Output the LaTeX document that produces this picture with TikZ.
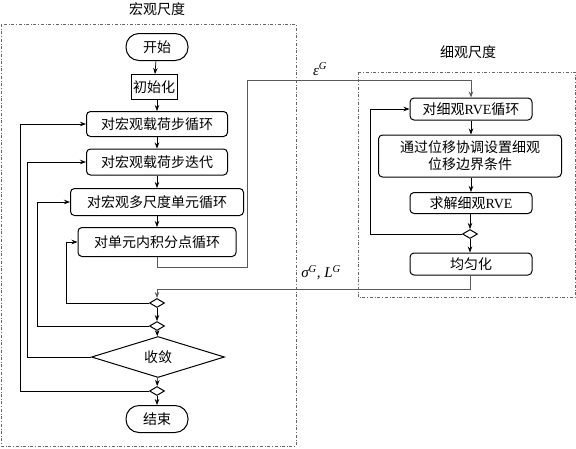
\documentclass[tikz,border=0pt]{standalone}
\usepackage{fontspec}
\setmainfont{Noto Sans CJK SC}
\newfontfamily\latin{Liberation Serif}
\usetikzlibrary{shapes.geometric,arrows.meta}

\tikzset{
    box/.style={draw, rounded corners=4pt, line width=1pt, inner sep=0pt,
        font=\fontsize{14}{17}\selectfont, align=center},
    term/.style={draw, rounded corners=13pt, line width=1pt, inner sep=0pt,
        minimum width=62pt, minimum height=27pt, font=\fontsize{14}{17}\selectfont},
    knot/.style={draw, diamond, line width=1pt, inner sep=0pt,
        minimum width=15pt, minimum height=9pt},
    frame/.style={draw=gray!80!black, dash dot, line width=0.8pt},
    flow/.style={-{Stealth[length=6pt,width=4.5pt]}, line width=0.7pt},
    xflow/.style={flow, draw=gray!70!black, line width=0.9pt},
    sym/.style={font=\fontsize{15}{17}\selectfont\latin\itshape}
}

\begin{document}
\begin{tikzpicture}[x=1pt,y=-1pt]
    \useasboundingbox (0,0) rectangle (576,448);

    % Frames with titles
    \draw[frame] (1,24) rectangle (296,446);
    \draw[frame] (358,72) rectangle (575,297);
    \node[font=\fontsize{14}{17}\selectfont] (macro_title) at (157,9) {宏观尺度};
    \node[font=\fontsize{14}{17}\selectfont] (micro_title) at (468,52) {细观尺度};

    % Macro scale
    \node[term] (start) at (157,47) {开始};
    \node[draw, line width=1pt, inner sep=0pt,
        minimum width=46pt,
        minimum height=25pt,
        font=\fontsize{14}{17}\selectfont] (init) at (154,87) {初始化};
    \node[box, minimum width=141pt, minimum height=25pt] (load_loop) at (157,124) {对宏观载荷步循环};
    \node[box, minimum width=141pt, minimum height=26pt] (load_iter) at (157,162) {对宏观载荷步迭代};
    \node[box, minimum width=173pt, minimum height=27pt] (elem_loop) at (157,202) {对宏观多尺度单元循环};
    \node[box, minimum width=158pt, minimum height=29pt] (gauss_loop) at (157,242) {对单元内积分点循环};

    \node[knot] (knot_gauss) at (157,303) {};
    \node[knot] (knot_elem) at (157,326) {};
    \node[draw, diamond, line width=1pt, inner sep=0pt,
        minimum width=133pt,
        minimum height=34pt,
        font=\fontsize{14}{17}\selectfont] (conv) at (158,357) {收敛};
    \node[knot] (knot_load) at (157,391) {};
    \node[term] (stop) at (157,419) {结束};

    % Micro scale
    \node[box, minimum width=122pt, minimum height=22pt] (rve_loop) at (471,109) {对细观{\latin RVE}循环};
    \node[box, minimum width=183pt, minimum height=42pt] (bc) at (470,156) {通过位移协调设置细观\\位移边界条件};
    \node[box, minimum width=122pt, minimum height=21pt] (solve) at (471,203) {求解细观{\latin RVE}};
    \node[knot] (knot_rve) at (470,234) {};
    \node[box, minimum width=122pt, minimum height=22pt] (homog) at (471,264) {均匀化};

    % Main flow
    \draw[flow] (start) -- (init);
    \draw[flow] (init.south -| start) -- (load_loop);
    \draw[flow] (load_loop) -- (load_iter);
    \draw[flow] (load_iter) -- (elem_loop);
    \draw[flow] (elem_loop) -- (gauss_loop);
    \draw[flow] (knot_gauss) -- (knot_elem);
    \draw[flow] (knot_elem) -- (conv);
    \draw[flow] (conv) -- (knot_load);
    \draw[flow] (knot_load) -- (stop);

    \draw[flow] (rve_loop) -- (bc.north -| rve_loop);
    \draw[flow] (bc.south -| rve_loop) -- (solve);
    \draw[flow] (solve.south -| knot_rve) -- (knot_rve);
    \draw[flow] (knot_rve) -- (homog.north -| knot_rve);

    % Feedback loops
    \draw[flow] (knot_gauss.west) -- ++(-83,0) |- (gauss_loop.west);
    \draw[flow] (knot_elem.west) -- ++(-112,0) |- (elem_loop.west);
    \draw[flow] (conv.west) -- ++(-64,0) |- (load_iter.west);
    \draw[flow] (knot_load.west) -- ++(-129,0) |- (load_loop.west);
    \draw[flow] (knot_rve.west) -- ++(-92,0) |- (rve_loop.west);

    % Exchange between scales
    \coordinate (eps_turn) at (247,80);
    \draw[xflow] (gauss_loop.south) -- ++(0,10) -| (eps_turn) -| (rve_loop.north);
    \draw[xflow] (homog.south -| knot_rve) -- ++(0,14) -| (knot_gauss.north);
    \node[sym] (eps_label) at (320,69) {ε\textsuperscript{G}};
    \node[sym] (sig_label) at (321,273) {σ\textsuperscript{G}, L\textsuperscript{G}};

\end{tikzpicture}
\end{document}
